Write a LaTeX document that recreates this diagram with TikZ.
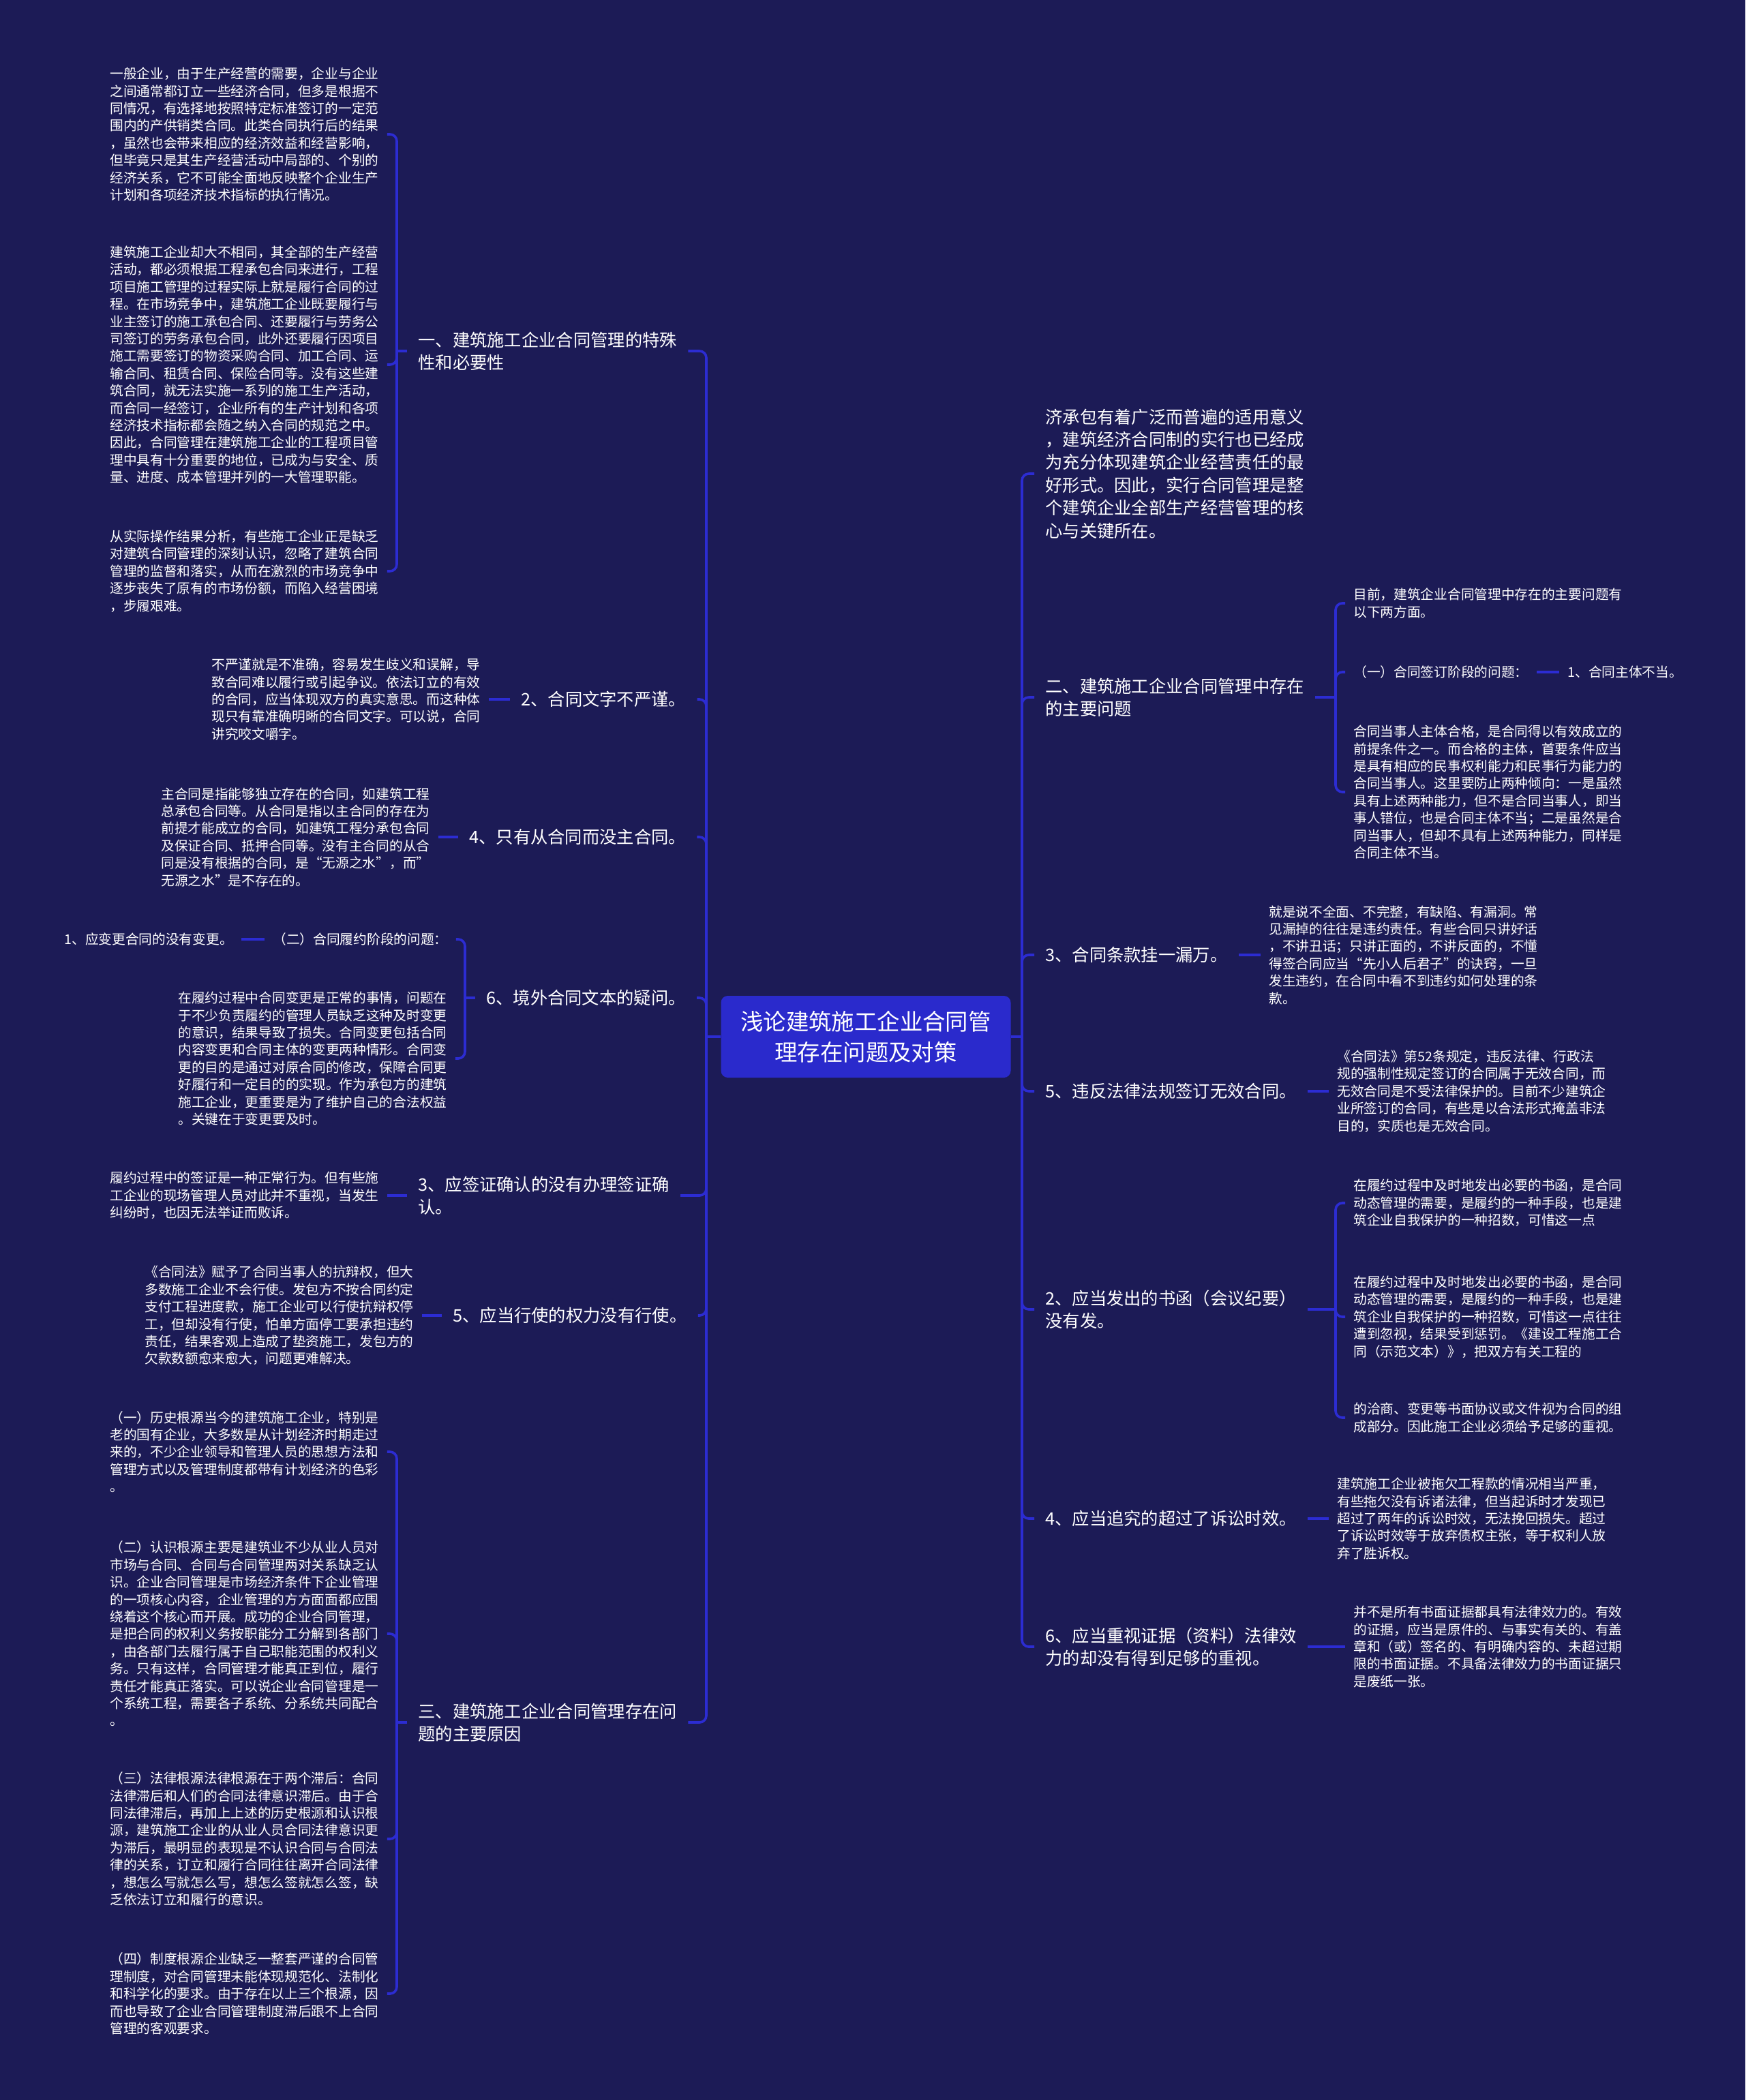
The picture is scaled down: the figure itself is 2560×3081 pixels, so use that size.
\documentclass[tikz,border=0pt]{standalone}
\usepackage{fontspec}
\setmainfont{Noto Sans CJK SC}
\definecolor{bgc}{RGB}{28,27,86}
\definecolor{rootc}{RGB}{42,42,204}
\definecolor{linec}{RGB}{44,44,210}
\begin{document}
\begin{tikzpicture}[x=0.5pt, y=-0.5pt,
    conn/.style={draw=linec, line width=1.8pt, rounded corners=5pt},
    topic/.style={anchor=west, text=white, align=left, inner xsep=8pt, font=\fontsize{12.65}{16.7}\selectfont},
    para/.style={anchor=west, text=white, align=left, inner xsep=6pt, font=\fontsize{9.85}{12.7}\selectfont},
    rootbox/.style={fill=rootc, rounded corners=5pt, text=white, align=center, minimum width=212.5pt, minimum height=60pt, font=\fontsize{16.7}{22.5}\selectfont}]
    % Background
    \useasboundingbox (0,0) rectangle (2560,3081);
    \fill[bgc] (0,0) rectangle (2560,3081);

    % Root
    \node[rootbox] (root) at (1270,1521) {浅论建筑施工企业合同管\\理存在问题及对策};

    % Left topics
    \node[topic] (L1) at (597,515) {一、建筑施工企业合同管理的特殊\\性和必要性};
    \node[topic] (L2) at (748,1026) {2、合同文字不严谨。};
    \node[topic] (L3) at (672,1228) {4、只有从合同而没主合同。};
    \node[topic] (L4) at (697,1464) {6、境外合同文本的疑问。};
    \node[topic] (L5) at (597,1754) {3、应签证确认的没有办理签证确\\认。};
    \node[topic] (L6) at (648,1930) {5、应当行使的权力没有行使。};
    \node[topic] (L7) at (597,2527) {三、建筑施工企业合同管理存在问\\题的主要原因};

    % Left details
    \node[para] (P1a) at (149,197) {一般企业，由于生产经营的需要，企业与企业\\之间通常都订立一些经济合同，但多是根据不\\同情况，有选择地按照特定标准签订的一定范\\围内的产供销类合同。此类合同执行后的结果\\，虽然也会带来相应的经济效益和经营影响，\\但毕竟只是其生产经营活动中局部的、个别的\\经济关系，它不可能全面地反映整个企业生产\\计划和各项经济技术指标的执行情况。};
    \node[para] (P1b) at (149,535) {建筑施工企业却大不相同，其全部的生产经营\\活动，都必须根据工程承包合同来进行，工程\\项目施工管理的过程实际上就是履行合同的过\\程。在市场竞争中，建筑施工企业既要履行与\\业主签订的施工承包合同、还要履行与劳务公\\司签订的劳务承包合同，此外还要履行因项目\\施工需要签订的物资采购合同、加工合同、运\\输合同、租赁合同、保险合同等。没有这些建\\筑合同，就无法实施一系列的施工生产活动，\\而合同一经签订，企业所有的生产计划和各项\\经济技术指标都会随之纳入合同的规范之中。\\因此，合同管理在建筑施工企业的工程项目管\\理中具有十分重要的地位，已成为与安全、质\\量、进度、成本管理并列的一大管理职能。};
    \node[para] (P1c) at (149,838) {从实际操作结果分析，有些施工企业正是缺乏\\对建筑合同管理的深刻认识，忽略了建筑合同\\管理的监督和落实，从而在激烈的市场竞争中\\逐步丧失了原有的市场份额，而陷入经营困境\\，步履艰难。};
    \node[para] (P2) at (298,1026) {不严谨就是不准确，容易发生歧义和误解，导\\致合同难以履行或引起争议。依法订立的有效\\的合同，应当体现双方的真实意思。而这种体\\现只有靠准确明晰的合同文字。可以说，合同\\讲究咬文嚼字。};
    \node[para] (P3) at (224,1228) {主合同是指能够独立存在的合同，如建筑工程\\总承包合同等。从合同是指以主合同的存在为\\前提才能成立的合同，如建筑工程分承包合同\\及保证合同、抵押合同等。没有主合同的从合\\同是没有根据的合同，是“无源之水”，而”\\无源之水”是不存在的。};
    \node[para] (two) at (388,1378) {（二）合同履约阶段的问题：};
    \node[para] (one) at (82,1378) {1、应变更合同的没有变更。};
    \node[para] (P4) at (249,1553) {在履约过程中合同变更是正常的事情，问题在\\于不少负责履约的管理人员缺乏这种及时变更\\的意识，结果导致了损失。合同变更包括合同\\内容变更和合同主体的变更两种情形。合同变\\更的目的是通过对原合同的修改，保障合同更\\好履行和一定目的的实现。作为承包方的建筑\\施工企业，更重要是为了维护自己的合法权益\\。关键在于变更要及时。};
    \node[para] (P5) at (149,1754) {履约过程中的签证是一种正常行为。但有些施\\工企业的现场管理人员对此并不重视，当发生\\纠纷时，也因无法举证而败诉。};
    \node[para] (P6) at (200,1930) {《合同法》赋予了合同当事人的抗辩权，但大\\多数施工企业不会行使。发包方不按合同约定\\支付工程进度款，施工企业可以行使抗辩权停\\工，但却没有行使，怕单方面停工要承担违约\\责任，结果客观上造成了垫资施工，发包方的\\欠款数额愈来愈大，问题更难解决。};
    \node[para] (P7a) at (149,2130) {（一）历史根源当今的建筑施工企业，特别是\\老的国有企业，大多数是从计划经济时期走过\\来的，不少企业领导和管理人员的思想方法和\\管理方式以及管理制度都带有计划经济的色彩\\。};
    \node[para] (P7b) at (149,2397) {（二）认识根源主要是建筑业不少从业人员对\\市场与合同、合同与合同管理两对关系缺乏认\\识。企业合同管理是市场经济条件下企业管理\\的一项核心内容，企业管理的方方面面都应围\\绕着这个核心而开展。成功的企业合同管理，\\是把合同的权利义务按职能分工分解到各部门\\，由各部门去履行属于自己职能范围的权利义\\务。只有这样，合同管理才能真正到位，履行\\责任才能真正落实。可以说企业合同管理是一\\个系统工程，需要各子系统、分系统共同配合\\。};
    \node[para] (P7c) at (149,2698) {（三）法律根源法律根源在于两个滞后：合同\\法律滞后和人们的合同法律意识滞后。由于合\\同法律滞后，再加上上述的历史根源和认识根\\源，建筑施工企业的从业人员合同法律意识更\\为滞后，最明显的表现是不认识合同与合同法\\律的关系，订立和履行合同往往离开合同法律\\，想怎么写就怎么写，想怎么签就怎么签，缺\\乏依法订立和履行的意识。};
    \node[para] (P7d) at (149,2925) {（四）制度根源企业缺乏一整套严谨的合同管\\理制度，对合同管理未能体现规范化、法制化\\和科学化的要求。由于存在以上三个根源，因\\而也导致了企业合同管理制度滞后跟不上合同\\管理的客观要求。};

    % Right topics
    \node[topic] (R1) at (1517,695) {济承包有着广泛而普遍的适用意义\\，建筑经济合同制的实行也已经成\\为充分体现建筑企业经营责任的最\\好形式。因此，实行合同管理是整\\个建筑企业全部生产经营管理的核\\心与关键所在。};
    \node[topic] (R2) at (1517,1023) {二、建筑施工企业合同管理中存在\\的主要问题};
    \node[topic] (R3) at (1517,1401) {3、合同条款挂一漏万。};
    \node[topic] (R4) at (1517,1601) {5、违反法律法规签订无效合同。};
    \node[topic] (R5) at (1517,1921) {2、应当发出的书函（会议纪要）\\没有发。};
    \node[topic] (R6) at (1517,2228) {4、应当追究的超过了诉讼时效。};
    \node[topic] (R7) at (1517,2416) {6、应当重视证据（资料）法律效\\力的却没有得到足够的重视。};

    % Right details
    \node[para] (R2a) at (1973,885) {目前，建筑企业合同管理中存在的主要问题有\\以下两方面。};
    \node[para] (R2b) at (1973,986) {（一）合同签订阶段的问题：};
    \node[para] (R2d) at (2287,986) {1、合同主体不当。};
    \node[para] (R2c) at (1973,1162) {合同当事人主体合格，是合同得以有效成立的\\前提条件之一。而合格的主体，首要条件应当\\是具有相应的民事权利能力和民事行为能力的\\合同当事人。这里要防止两种倾向：一是虽然\\具有上述两种能力，但不是合同当事人，即当\\事人错位，也是合同主体不当；二是虽然是合\\同当事人，但却不具有上述两种能力，同样是\\合同主体不当。};
    \node[para] (R3c) at (1849,1401) {就是说不全面、不完整，有缺陷、有漏洞。常\\见漏掉的往往是违约责任。有些合同只讲好话\\，不讲丑话；只讲正面的，不讲反面的，不懂\\得签合同应当“先小人后君子”的诀窍，一旦\\发生违约，在合同中看不到违约如何处理的条\\款。};
    \node[para] (R4c) at (1949,1601) {《合同法》第52条规定，违反法律、行政法\\规的强制性规定签订的合同属于无效合同，而\\无效合同是不受法律保护的。目前不少建筑企\\业所签订的合同，有些是以合法形式掩盖非法\\目的，实质也是无效合同。};
    \node[para] (R5a) at (1973,1765) {在履约过程中及时地发出必要的书函，是合同\\动态管理的需要，是履约的一种手段，也是建\\筑企业自我保护的一种招数，可惜这一点};
    \node[para] (R5b) at (1973,1932) {在履约过程中及时地发出必要的书函，是合同\\动态管理的需要，是履约的一种手段，也是建\\筑企业自我保护的一种招数，可惜这一点往往\\遭到忽视，结果受到惩罚。《建设工程施工合\\同（示范文本）》，把双方有关工程的};
    \node[para] (R5c) at (1973,2080) {的洽商、变更等书面协议或文件视为合同的组\\成部分。因此施工企业必须给予足够的重视。};
    \node[para] (R6c) at (1949,2228) {建筑施工企业被拖欠工程款的情况相当严重，\\有些拖欠没有诉诸法律，但当起诉时才发现已\\超过了两年的诉讼时效，无法挽回损失。超过\\了诉讼时效等于放弃债权主张，等于权利人放\\弃了胜诉权。};
    \node[para] (R7c) at (1973,2416) {并不是所有书面证据都具有法律效力的。有效\\的证据，应当是原件的、与事实有关的、有盖\\章和（或）签名的、有明确内容的、未超过期\\限的书面证据。不具备法律效力的书面证据只\\是废纸一张。};

    % Trunks
    \coordinate (tl) at (1036,1521);
    \coordinate (tr) at (1499,1521);
    \draw[conn] (root.west) -- (tl);
    \draw[conn] (root.east) -- (tr);
    \foreach \n in {L1,L2,L3,L4,L5,L6,L7}
        \draw[conn] (tl) |- (\n.east);
    \foreach \n in {R1,R2,R3,R4,R5,R6,R7}
        \draw[conn] (tr) |- (\n.west);

    % Brackets
    \coordinate (j1) at (582,515);
    \coordinate (j4) at (682,1464);
    \coordinate (j7) at (582,2527);
    \coordinate (j2) at (1959,1023);
    \coordinate (j5) at (1959,1921);
    \draw[conn] (L1.west) -- (j1);
    \foreach \n in {P1a,P1b,P1c}
        \draw[conn] (j1) |- (\n.east);
    \draw[conn] (L4.west) -- (j4);
    \foreach \n in {two,P4}
        \draw[conn] (j4) |- (\n.east);
    \draw[conn] (L7.west) -- (j7);
    \foreach \n in {P7a,P7b,P7c,P7d}
        \draw[conn] (j7) |- (\n.east);
    \draw[conn] (R2.east) -- (j2);
    \foreach \n in {R2a,R2b,R2c}
        \draw[conn] (j2) |- (\n.west);
    \draw[conn] (R5.east) -- (j5);
    \foreach \n in {R5a,R5b,R5c}
        \draw[conn] (j5) |- (\n.west);

    % Single links
    \draw[conn] (P2.east) -- (L2.west);
    \draw[conn] (P3.east) -- (L3.west);
    \draw[conn] (one.east) -- (two.west);
    \draw[conn] (P5.east) -- (L5.west);
    \draw[conn] (P6.east) -- (L6.west);
    \draw[conn] (R2b.east) -- (R2d.west);
    \draw[conn] (R3.east) -- (R3c.west);
    \draw[conn] (R4.east) -- (R4c.west);
    \draw[conn] (R6.east) -- (R6c.west);
    \draw[conn] (R7.east) -- (R7c.west);
\end{tikzpicture}
\end{document}
